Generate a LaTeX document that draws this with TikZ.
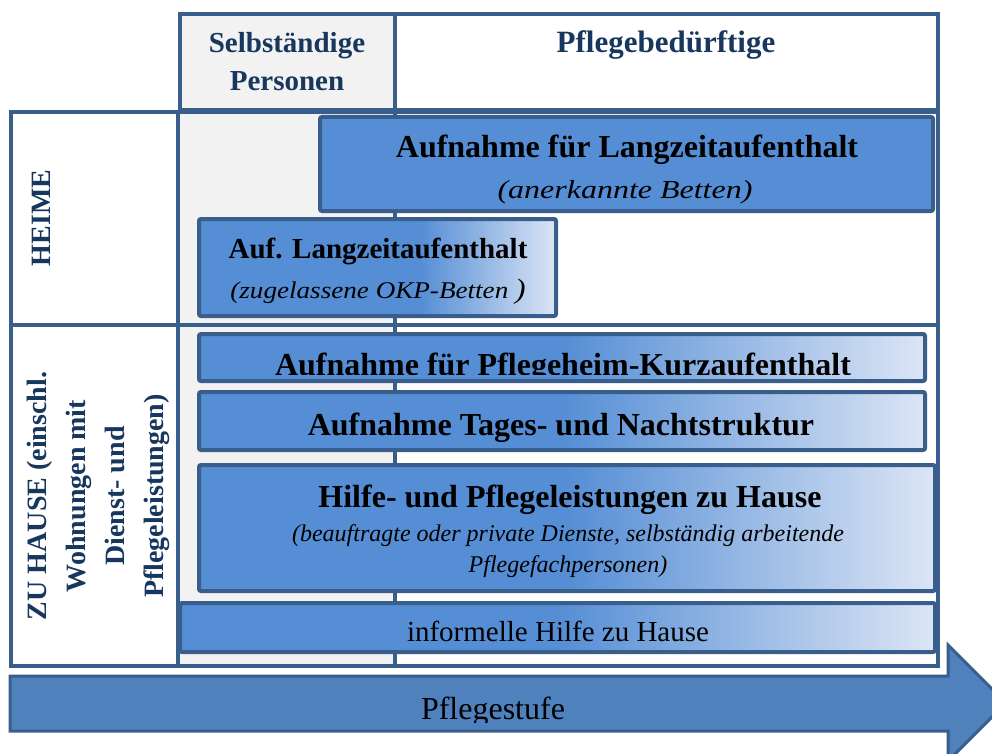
\documentclass[tikz,border=0pt]{standalone}
\usepackage{graphicx}
\usepackage{fontspec}
\setmainfont{Liberation Serif}
\definecolor{bord}{HTML}{3A5E8C}
\definecolor{fillb}{HTML}{558ED5}
\definecolor{lightb}{HTML}{DCE5F5}
\definecolor{navy}{HTML}{17375E}
\definecolor{grayc}{HTML}{F2F2F2}
\definecolor{arrowc}{HTML}{4F81BD}
\pgfdeclarehorizontalshading{fadeA}{100bp}{color(0bp)=(fillb); color(25bp)=(fillb); color(50bp)=(fillb); color(75bp)=(lightb); color(100bp)=(lightb)}
\pgfdeclarehorizontalshading{fadeB}{100bp}{color(0bp)=(fillb); color(25bp)=(fillb); color(56bp)=(fillb); color(75bp)=(lightb); color(100bp)=(lightb)}
\begin{document}
\begin{tikzpicture}[x=1pt,y=-1pt,
  gridline/.style={draw=bord, line width=3.5pt},
  cellbox/.style={draw=bord, line width=3.5pt, anchor=north west, inner sep=0pt, outer sep=0pt},
  bbox/.style={draw=bord, line width=4pt, rounded corners=2pt, anchor=north west, inner sep=0pt, outer sep=0pt},
  solidbox/.style={bbox, fill=fillb},
  fadebox/.style={bbox, shade, shading=fadeA},
  fadeboxB/.style={bbox, shade, shading=fadeB},
  hdr/.style={text=navy, font=\bfseries\fontsize{29}{35}\selectfont, anchor=base, inner sep=0pt},
  hdrbig/.style={text=navy, font=\bfseries\fontsize{31}{37}\selectfont, anchor=base, inner sep=0pt},
  side/.style={text=navy, font=\bfseries\fontsize{28}{39}\selectfont, rotate=90, align=center, inner sep=0pt},
  ttl/.style={font=\bfseries\fontsize{32}{38}\selectfont, anchor=base, inner sep=0pt},
  ttlsm/.style={font=\bfseries\fontsize{29}{35}\selectfont, anchor=base, inner sep=0pt},
  sub/.style={font=\itshape\fontsize{24}{30}\selectfont, anchor=base, inner sep=0pt},
  plain/.style={font=\fontsize{29}{35}\selectfont, anchor=base, inner sep=0pt},
  bigplain/.style={font=\fontsize{32}{38}\selectfont, anchor=base, inner sep=0pt},
  arrowbox/.style={fill=arrowc, draw=bord, line width=3pt, line join=miter}
]
\useasboundingbox (0,0) rectangle (992,754);
\clip (0,0) rectangle (992,754);

% gray column
\fill[grayc] (180,14) rectangle (395,666);

% header cells
\node[cellbox, fill=grayc, minimum width=215pt, minimum height=96pt] (selb) at (180,14) {};
\node[cellbox, fill=white, minimum width=543pt, minimum height=96pt] (pfl) at (395,14) {};

% white area of the Pflegebeduerftige column
\fill[white] (397,112) rectangle (938,666);

% rows
\node[cellbox, minimum width=927pt, minimum height=213pt] (heime) at (11,112) {};
\node[cellbox, fill=white, minimum width=167pt, minimum height=213pt] (heimeL) at (11,112) {};
\node[cellbox, minimum width=927pt, minimum height=341pt] (zuh) at (11,325) {};
\node[cellbox, fill=white, minimum width=167pt, minimum height=341pt] (zuhL) at (11,325) {};

% column divider
\coordinate (divbot) at (395,666);
\draw[gridline] (selb.south east) -- (divbot);

% boxes
\node[solidbox, minimum width=613pt, minimum height=94pt] (b1) at (320,117) {};
\node[fadeboxB, minimum width=357pt, minimum height=97pt] (b2) at (199,219) {};
\node[fadebox, minimum width=726pt, minimum height=47pt] (b3) at (199,334) {};
\node[fadebox, minimum width=726pt, minimum height=58pt] (b4) at (199,392) {};
\node[fadebox, minimum width=736pt, minimum height=126pt] (b5) at (199,465) {};
\node[fadebox, minimum width=755pt, minimum height=49pt] (b6) at (180,603) {};

% header texts
\node[hdr] (t1) at (287,53) {Selbständige};
\node[hdr] (t2) at (287,91) {Personen};
\node[hdrbig] (t3) at (666,53) {Pflegebedürftige};

% side labels
\node[side, font=\bfseries\fontsize{28}{34}\selectfont] (heimeT) at (41,218) {HEIME};
\node[side] (zuhT) at (98,496) {ZU HAUSE (einschl.\\Wohnungen mit\\Dienst- und\\Pflegeleistungen)};

% box texts
\node[ttl] (b1a) at (627,158) {Aufnahme für Langzeitaufenthalt};
\node[sub, font=\itshape\fontsize{26}{30}\selectfont] (b1b) at (625,198) {\scalebox{1.23}[1]{(anerkannte Betten)}};
\node[ttlsm] (b2a) at (378,258) {Auf. Langzeitaufenthalt};
\node[sub] (b2b) at (378,298) {\scalebox{1.13}[1]{(zugelassene OKP-Betten {\fontsize{28}{32}\selectfont )}}};
\begin{scope}
  \clip (199,334) rectangle (925,374);
  \node[ttl] (b3a) at (563,375) {Aufnahme für Pflegeheim-Kurzaufenthalt};
\end{scope}
\node[ttl] (b4a) at (561,435) {Aufnahme Tages- und Nachtstruktur};
\node[ttl] (b5a) at (570,507) {Hilfe- und Pflegeleistungen zu Hause};
\node[sub] (b5b) at (568,541) {(beauftragte oder private Dienste, selbständig arbeitende};
\node[sub] (b5c) at (568,572) {Pflegefachpersonen)};
\node[plain] (b6a) at (558,641) {informelle Hilfe zu Hause};

% arrow
\draw[arrowbox] (10,676) -- (948,676) -- (948,645) -- (1006,703) -- (948,761) -- (948,731) -- (10,731) -- cycle;
\begin{scope}
  \clip (10,676) rectangle (948,722);
  \node[bigplain] (arrT) at (493,719) {Pflegestufe};
\end{scope}
\end{tikzpicture}
\end{document}
